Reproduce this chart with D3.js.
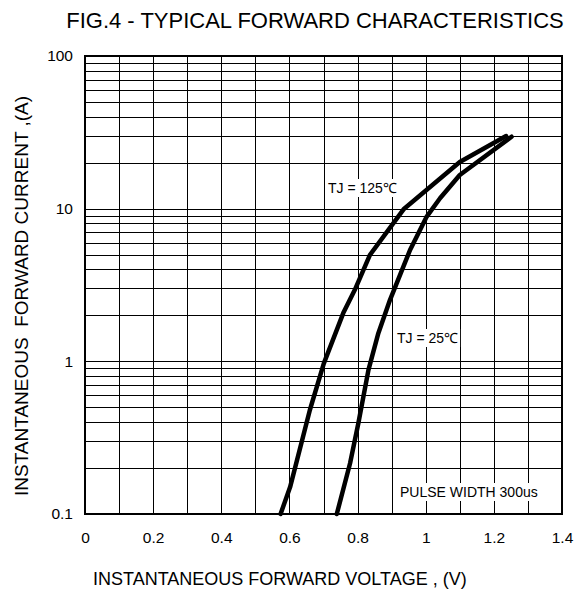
<!DOCTYPE html>
<html>
<head>
<meta charset="utf-8">
<script src="https://cdn.jsdelivr.net/npm/d3@7"></script>
<style>
  body { margin: 0; background: #fff; }
  svg text { font-family: "Liberation Sans", Arial, sans-serif; fill: #000; }
</style>
</head>
<body>
<svg id="chart" width="583" height="594"></svg>
<script>
// curve readings (V, A)
const v125 = [0.574, 0.602, 0.66, 0.701, 0.758, 0.792, 0.836, 0.935, 1.1, 1.236];
const i125 = [0.1, 0.15, 0.48, 0.97, 2.07, 2.94, 4.97, 9.9, 20.2, 29.9];
const v25 = [0.739, 0.778, 0.802, 0.832, 0.861, 0.895, 0.954, 1.003, 1.042, 1.1, 1.252];
const i25 = [0.1, 0.215, 0.39, 0.88, 1.53, 2.52, 5.36, 8.87, 11.7, 16.6, 29.6];

const xTicks = [0, 0.2, 0.4, 0.6, 0.8, 1, 1.2, 1.4];
const yTicks = [0.1, 1, 10, 100];
const xGrid = d3.range(0, 15).map(d => d / 10);
const yGrid = [0.1, 1, 10].flatMap(d => d3.range(1, 10).map(k => k * d)).concat([100]);

const svg = d3.select("#chart");
const mLeft = 85, mRight = 562, mTop = 56, mBottom = 514;

const x = d3.scaleLinear().domain([0, 1.4]).range([mLeft, mRight]);
const y = d3.scaleLog().domain([0.1, 100]).range([mBottom, mTop]);

// title
svg.append("text").attr("x", 315).attr("y", 28)
  .attr("text-anchor", "middle").style("font-size", "22px")
  .text("FIG.4 - TYPICAL FORWARD CHARACTERISTICS");

// grid
const grid = svg.append("g").attr("stroke", "#000").attr("stroke-width", 1);
grid.selectAll("line.v").data(xGrid).join("line").attr("class", "v")
  .attr("x1", d => Math.round(x(d)) + 0.5).attr("x2", d => Math.round(x(d)) + 0.5)
  .attr("y1", mTop).attr("y2", mBottom);
grid.selectAll("line.h").data(yGrid).join("line").attr("class", "h")
  .attr("y1", d => Math.round(y(d)) + 0.5).attr("y2", d => Math.round(y(d)) + 0.5)
  .attr("x1", mLeft).attr("x2", mRight);

// frame
svg.append("rect").attr("x", mLeft).attr("y", mTop)
  .attr("width", mRight - mLeft).attr("height", mBottom - mTop)
  .attr("fill", "none").attr("stroke", "#000").attr("stroke-width", 2);

// tick labels via d3 axes, no domain/ticks
const xAxis = svg.append("g").attr("transform", `translate(0,${mBottom})`)
  .call(d3.axisBottom(x).tickValues(xTicks).tickSize(0).tickPadding(18).tickFormat(d3.format("~g")));
const yAxis = svg.append("g").attr("transform", `translate(${mLeft},0)`)
  .call(d3.axisLeft(y).tickValues(yTicks).tickSize(0).tickPadding(12).tickFormat(d3.format("~g")));
[xAxis, yAxis].forEach(a => {
  a.select(".domain").remove();
  a.attr("font-family", null).attr("font-size", null);
  a.selectAll("text").style("font-size", "15.5px").attr("fill", "#000");
});

// curves
const line = d3.line().x(d => x(d[0])).y(d => y(d[1]));
[[v125, i125], [v25, i25]].forEach(([vs, is]) => {
  svg.append("path").datum(vs.map((v, k) => [v, is[k]]))
    .attr("d", line).attr("fill", "none")
    .attr("stroke", "#000").attr("stroke-width", 4.5)
    .attr("stroke-linejoin", "round").attr("stroke-linecap", "round");
});

// annotations with white backing
function note(tx, ty, str, size) {
  const t = svg.append("text").attr("x", tx).attr("y", ty).style("font-size", size + "px").text(str);
  const b = t.node().getBBox();
  svg.insert("rect", () => t.node())
    .attr("x", b.x - 2).attr("y", b.y - 1).attr("width", b.width + 4).attr("height", b.height + 2)
    .attr("fill", "#fff");
}
note(328, 193, "TJ = 125\u2103", 14);
note(397, 343, "TJ = 25\u2103", 14);
note(400, 497, "PULSE WIDTH 300us", 14);

// axis titles
svg.append("text").attr("x", 93).attr("y", 585).style("font-size", "18px")
  .text("INSTANTANEOUS FORWARD VOLTAGE , (V)");
svg.append("text").attr("transform", "translate(28,296) rotate(-90)")
  .attr("text-anchor", "middle").attr("xml:space", "preserve").style("white-space", "pre")
  .style("font-size", "19px")
  .text("INSTANTANEOUS  FORWARD CURRENT ,(A)");
</script>
</body>
</html>
